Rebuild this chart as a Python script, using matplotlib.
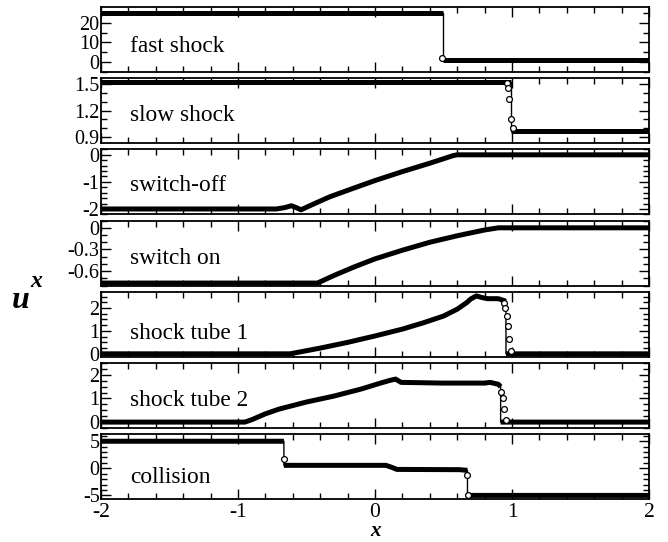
import numpy as np
import matplotlib
matplotlib.use("Agg")
import matplotlib.pyplot as plt
from matplotlib.ticker import MultipleLocator

plt.rcParams["font.family"] = ["Liberation Serif", "DejaVu Serif"]

# panel names
labels = ["fast shock", "slow shock", "switch-off", "switch on",
          "shock tube 1", "shock tube 2", "collision"]

# solution profiles u^x(x), vertical jumps are repeated x values
fast_x = [-2.0, 0.496, 0.496, 2.0]
fast_y = [25.0, 25.0, 1.1, 1.1]
fast_dots_x = [0.487]
fast_dots_y = [2.0]

slow_x = [-2.0, 0.995, 0.995, 2.0]
slow_y = [1.53, 1.53, 0.97, 0.97]
slow_dots_x = [0.966, 0.973, 0.980, 0.990, 1.007]
slow_dots_y = [1.52, 1.46, 1.33, 1.11, 1.0]

off_x = [-2.0, -0.72, -0.66, -0.61, -0.57, -0.54, -0.45, -0.33, -0.15, 0.0,
         0.2, 0.4, 0.57, 0.6, 2.0]
off_y = [-2.0, -2.0, -1.95, -1.88, -1.96, -2.03, -1.82, -1.55, -1.22, -0.95,
         -0.62, -0.31, -0.03, 0.0, 0.0]

on_x = [-2.0, -0.42, -0.3, -0.15, 0.0, 0.2, 0.4, 0.6, 0.8, 0.9, 2.0]
on_y = [-0.765, -0.765, -0.66, -0.54, -0.43, -0.31, -0.2, -0.11, -0.03, 0.0, 0.0]

st1_x = [-2.0, -0.62, -0.4, -0.2, 0.0, 0.2, 0.35, 0.5, 0.6, 0.67, 0.7, 0.74,
         0.78, 0.82, 0.9, 0.93, 0.956, 0.956, 2.0]
st1_y = [0.0, 0.0, 0.25, 0.5, 0.78, 1.08, 1.35, 1.65, 1.95, 2.24, 2.4, 2.53,
         2.46, 2.41, 2.41, 2.35, 2.3, 0.0, 0.0]
st1_dots_x = [0.938, 0.950, 0.962, 0.974, 0.981, 0.991]
st1_dots_y = [2.24, 1.99, 1.64, 1.2, 0.64, 0.13]

st2_x = [-2.0, -0.95, -0.9, -0.8, -0.7, -0.5, -0.3, -0.1, 0.04, 0.1, 0.15,
         0.19, 0.5, 0.8, 0.84, 0.9, 0.917, 0.917, 2.0]
st2_y = [0.0, 0.0, 0.1, 0.35, 0.55, 0.85, 1.1, 1.4, 1.65, 1.75, 1.82,
         1.68, 1.65, 1.65, 1.68, 1.6, 1.5, 0.0, 0.0]
st2_dots_x = [0.920, 0.932, 0.944, 0.954]
st2_dots_y = [1.29, 1.01, 0.55, 0.09]

col_x = [-2.0, -0.665, -0.665, 0.08, 0.12, 0.16, 0.62, 0.66, 0.675, 0.675, 2.0]
col_y = [5.0, 5.0, 0.55, 0.55, 0.2, -0.2, -0.25, -0.35, -0.35, -5.0, -5.0]
col_dots_x = [-0.665, 0.668, 0.68]
col_dots_y = [1.8, -1.3, -4.9]

profiles = [
    (fast_x, fast_y, fast_dots_x, fast_dots_y),
    (slow_x, slow_y, slow_dots_x, slow_dots_y),
    (off_x, off_y, [], []),
    (on_x, on_y, [], []),
    (st1_x, st1_y, st1_dots_x, st1_dots_y),
    (st2_x, st2_y, st2_dots_x, st2_dots_y),
    (col_x, col_y, col_dots_x, col_dots_y),
]

ylims = [(-5, 28), (0.83, 1.57), (-2.2, 0.2), (-0.8, 0.1),
         (-0.13, 2.71), (-0.25, 2.5), (-5.7, 6.3)]
yticks = [[0, 10, 20], [0.9, 1.2, 1.5], [-2, -1, 0], [-0.6, -0.3, 0],
          [0, 1, 2], [0, 1, 2], [-5, 0, 5]]
ytick_labels = [["0", "10", "20"], ["0.9", "1.2", "1.5"], ["-2", "-1", "0"],
                ["-0.6", "-0.3", "0"], ["0", "1", "2"], ["0", "1", "2"],
                ["-5", "0", "5"]]
yminor = [5, 0.1, 0.2, 0.1, 0.25, 0.25, 1]
label_y = [0.39, 0.43, 0.45, 0.41, 0.36, 0.42, 0.34]


def thick_part(xs, ys):
    # break the numerical curve at vertical jumps, only the dots show those
    out_x, out_y = [xs[0]], [ys[0]]
    for i in range(1, len(xs)):
        if xs[i] == xs[i - 1] and ys[i] != ys[i - 1]:
            out_x.append(np.nan)
            out_y.append(np.nan)
        out_x.append(xs[i])
        out_y.append(ys[i])
    return out_x, out_y


W, H = 668, 542
fig = plt.figure(figsize=(W / 100, H / 100), dpi=100)

left_px, right_px = 101, 649
top_px, pitch, height = 7, 71.2, 65

for i, (xs, ys, dx, dy) in enumerate(profiles):
    top = top_px + i * pitch
    ax = fig.add_axes((left_px / W, 1 - (top + height) / H,
                       (right_px - left_px) / W, height / H))
    tx, ty = thick_part(xs, ys)
    ax.plot(tx, ty, color="black", lw=3.6, solid_capstyle="butt")
    ax.plot(xs, ys, color="black", lw=1.0)
    if dx:
        ax.plot(dx, dy, ls="none", marker="o", ms=4.2, mfc="white",
                mec="black", mew=0.9)

    ax.set_xlim(-2, 2)
    ax.set_ylim(*ylims[i])
    ax.xaxis.set_major_locator(MultipleLocator(1))
    ax.xaxis.set_minor_locator(MultipleLocator(0.2))
    ax.set_yticks(yticks[i])
    ax.set_yticklabels(ytick_labels[i])
    ax.yaxis.set_minor_locator(MultipleLocator(yminor[i]))
    ax.tick_params(which="both", direction="in", top=True, right=True,
                   labelsize=14.5, width=1.0, pad=1)
    ax.tick_params(axis="x", pad=3, labelsize=15.5)
    ax.tick_params(which="major", length=7)
    ax.tick_params(which="minor", length=4)
    for s in ax.spines.values():
        s.set_linewidth(1.3)
    if i < len(profiles) - 1:
        ax.tick_params(labelbottom=False)
    else:
        ax.set_xticks([-2, -1, 0, 1, 2])
        ax.set_xticklabels(["-2", "-1", "0", "1", "2"])
    ax.text(0.053, label_y[i], labels[i], transform=ax.transAxes,
            ha="left", va="center", fontsize=16.8)

fig.text(21 / W, 1 - 300 / H, "u", fontsize=23, fontweight="bold",
         fontstyle="italic", ha="center", va="center")
fig.text(36 / W, 1 - 282 / H, "x", fontsize=17, fontweight="bold",
         fontstyle="italic", ha="center", va="center")
fig.text(375 / W, 1 - 541 / H, "x", fontsize=15, fontweight="bold",
         fontstyle="italic", ha="center", va="bottom")

fig.savefig("out.png", dpi=100)
